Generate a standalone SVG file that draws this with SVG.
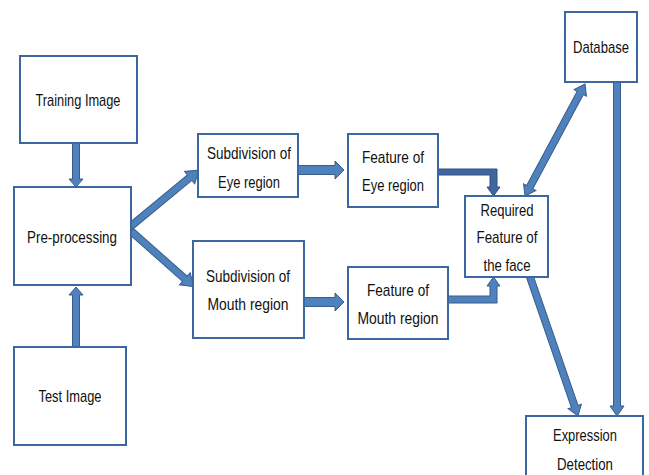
<svg xmlns="http://www.w3.org/2000/svg" width="649" height="475" viewBox="0 0 649 475">
<style>
.box{fill:#fff;stroke:#3d67a0;stroke-width:2}
.t{font-family:"Liberation Sans Narrow","Liberation Sans",Arial,sans-serif;font-size:17px;fill:#111;text-anchor:middle}
.ar{fill:#4f81bd;stroke:#385d8a;stroke-width:1}
.ard{fill:#3f66a0;stroke:#2f5080;stroke-width:1}
</style>
<rect width="649" height="475" fill="#fff"/>
<g id="connectors">
<polygon class="ar" transform="translate(76,143) rotate(90)" points="0,-3.5 36,-3.5 36,-7 44,0 36,7 36,3.5 0,3.5"/>
<polygon class="ar" transform="translate(76,347) rotate(-90)" points="0,-3.5 52,-3.5 52,-7 60,0 52,7 52,3.5 0,3.5"/>
<polygon class="ar" transform="translate(131,226) rotate(-39.5)" points="0,-3.5 76,-3.5 76,-8 88,0 76,8 76,3.5 0,3.5"/>
<polygon class="ar" transform="translate(131,231) rotate(41.6)" points="0,-3.5 72,-3.5 72,-8 84,0 72,8 72,3.5 0,3.5"/>
<polygon class="ar" transform="translate(298,170)" points="0,-4.5 37,-4.5 37,-9 46,0 37,9 37,4.5 0,4.5"/>
<polygon class="ar" transform="translate(304,302)" points="0,-4.5 31,-4.5 31,-9 40,0 31,9 31,4.5 0,4.5"/>
<polygon class="ard" points="438,169 497,169 497,187 500,187 493.5,196 487,187 490,187 490,175 438,175"/>
<polygon class="ar" points="448,296 490,296 490,286 487,286 493.5,277 500,286 497,286 497,303 448,303"/>
<polygon class="ar" transform="translate(525,196) rotate(-61.8)" points="0,0 10,-7 10,-3.5 117,-3.5 117,-7 127,0 117,7 117,3.5 10,3.5 10,7"/>
<polygon class="ar" transform="translate(530,277) rotate(70.95)" points="0,-3.5 137,-3.5 137,-7 147,0 137,7 137,3.5 0,3.5"/>
<polygon class="ar" transform="translate(617,82) rotate(90)" points="0,-3.5 324,-3.5 324,-7 334,0 324,7 324,3.5 0,3.5"/>
</g>
<g id="training"><rect class="box" x="20" y="56" width="117" height="87"/><text class="t" x="78" y="106" textLength="85" lengthAdjust="spacingAndGlyphs">Training Image</text></g>
<g id="preprocessing"><rect class="box" x="14" y="187" width="117" height="98"/><text class="t" x="72" y="243" textLength="90" lengthAdjust="spacingAndGlyphs">Pre-processing</text></g>
<g id="test"><rect class="box" x="14" y="347" width="112" height="98"/><text class="t" x="70" y="402" textLength="63" lengthAdjust="spacingAndGlyphs">Test Image</text></g>
<g id="subeye"><rect class="box" x="198" y="134" width="100" height="63"/><text class="t" x="249" y="159" textLength="84" lengthAdjust="spacingAndGlyphs">Subdivision of</text><text class="t" x="249" y="188" textLength="62" lengthAdjust="spacingAndGlyphs">Eye region</text></g>
<g id="submouth"><rect class="box" x="193" y="241" width="111" height="97"/><text class="t" x="248" y="282" textLength="84" lengthAdjust="spacingAndGlyphs">Subdivision of</text><text class="t" x="248" y="310" textLength="81" lengthAdjust="spacingAndGlyphs">Mouth region</text></g>
<g id="feateye"><rect class="box" x="348" y="134" width="90" height="73"/><text class="t" x="393" y="163" textLength="62" lengthAdjust="spacingAndGlyphs">Feature of</text><text class="t" x="393" y="191" textLength="62" lengthAdjust="spacingAndGlyphs">Eye region</text></g>
<g id="featmouth"><rect class="box" x="348" y="267" width="100" height="72"/><text class="t" x="398" y="296" textLength="62" lengthAdjust="spacingAndGlyphs">Feature of</text><text class="t" x="398" y="324" textLength="81" lengthAdjust="spacingAndGlyphs">Mouth region</text></g>
<g id="database"><rect class="box" x="565" y="12" width="72" height="70"/><text class="t" x="601" y="53" textLength="56" lengthAdjust="spacingAndGlyphs">Database</text></g>
<g id="required"><rect class="box" x="465" y="196" width="83" height="81"/><text class="t" x="507" y="216" textLength="53" lengthAdjust="spacingAndGlyphs">Required</text><text class="t" x="507" y="243" textLength="61" lengthAdjust="spacingAndGlyphs">Feature of</text><text class="t" x="507" y="271" textLength="47" lengthAdjust="spacingAndGlyphs">the face</text></g>
<g id="expression"><rect class="box" x="526" y="416" width="117" height="64"/><text class="t" x="585" y="441" textLength="64" lengthAdjust="spacingAndGlyphs">Expression</text><text class="t" x="585" y="470" textLength="56" lengthAdjust="spacingAndGlyphs">Detection</text></g>
</svg>
